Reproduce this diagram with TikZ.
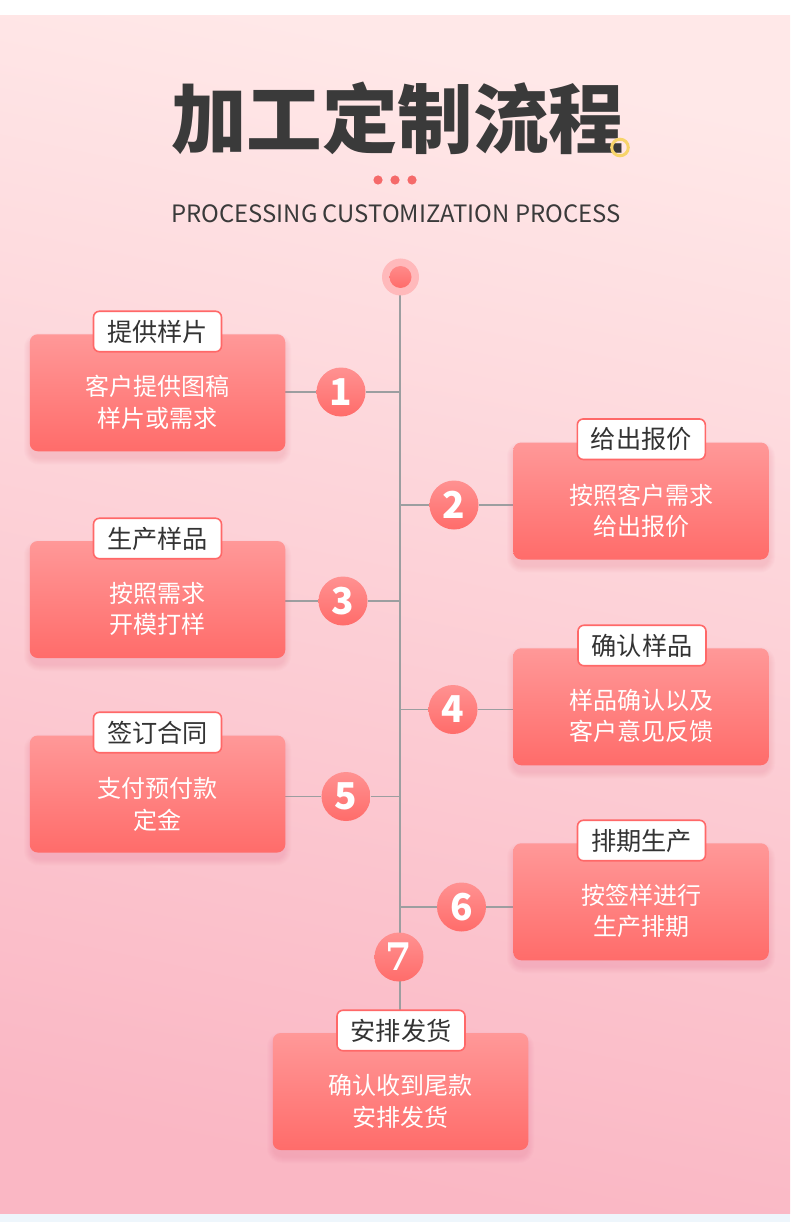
\documentclass[tikz,border=0pt]{standalone}
\usepackage{fontspec}
\setmainfont{Noto Sans CJK SC}
\newfontfamily\cjk{Noto Sans CJK SC}
\newfontfamily\slab{DejaVu Serif}
\definecolor{bgtop}{HTML}{FFE8E8}
\definecolor{bgbot}{HTML}{FAB7C4}
\definecolor{bgblue}{HTML}{EEF6FC}
\definecolor{cardtop}{HTML}{FF9898}
\definecolor{cardbot}{HTML}{FF6C6A}
\definecolor{lblborder}{HTML}{FF6868}
\definecolor{txtdark}{HTML}{333333}
\definecolor{titledark}{HTML}{3A3A3A}
\definecolor{linegray}{HTML}{9C9EA0}
\definecolor{ringyel}{HTML}{F7D46A}
\definecolor{dotred}{HTML}{F56A6A}
\definecolor{shadowcol}{HTML}{E8708A}
\definecolor{halo}{HTML}{FFB9BB}
\usetikzlibrary{calc}
\pgfdeclarelayer{bglayer}
\pgfdeclarelayer{lines}
\pgfsetlayers{bglayer,lines,main}
\newcommand\cshadow[4]{%
  \foreach \i in {1,...,7}{%
    \fill[shadowcol, opacity=0.03, rounded corners=8pt+\i pt]
      ($(#1,#2)+(-\i+1,-\i+6)$) rectangle ($(#3,#4)+(\i-1,\i+6)$);}}
\begin{document}
\begin{tikzpicture}[x=1pt,y=-1pt,
  card/.style={rectangle, rounded corners=8pt, top color=cardtop, bottom color=cardbot,
    minimum width=255.5pt, minimum height=117pt, inner sep=0pt},
  lbl/.style={rectangle, rounded corners=6pt, draw=lblborder, line width=1.6pt, fill=white,
    minimum width=128pt, minimum height=40.5pt, inner sep=0pt, text=txtdark,
    font=\fontsize{25.2}{28}\selectfont},
  ctext/.style={align=center, text=white, inner sep=0pt, font=\fontsize{24}{31.5}\selectfont},
  num/.style={circle, minimum size=49pt, inner sep=0pt, top color=cardtop!85!cardbot, bottom color=cardbot,
    text=white, font=\fontsize{37}{37}\selectfont\bfseries},
  conn/.style={draw=linegray, line width=1.2pt}]
\useasboundingbox (0,0) rectangle (790,1222);
% background
\begin{pgfonlayer}{bglayer}
\fill[white] (0,0) rectangle (790,16);
\fill[bgblue] (0,1213) rectangle (790,1222);
\shade[top color=bgtop, bottom color=bgbot, shading angle=-12] (0,16) rectangle (790,1213);
\end{pgfonlayer}

% title
\node[text=titledark, inner sep=0pt, font=\fontsize{75.5}{75.5}\selectfont\bfseries] (title) at (397.5,118) {加工定制流程};
\draw[ringyel, line width=3pt] (620,147.5) circle (8.3pt);
\foreach \xx in {378,395,412}
  \fill[dotred] (\xx,180) circle (4.6pt);
\node[text=titledark, inner sep=0pt, font=\fontsize{23.9}{23.9}\selectfont] (sub) at (396,214) {PROCESSING CUSTOMIZATION PROCESS};

% shadows
\cshadow{30}{334}{285}{451.5}
\cshadow{30}{541}{285}{658}
\cshadow{30}{735.5}{285}{852.5}
\cshadow{513}{442.5}{769}{559.5}
\cshadow{513}{648}{769}{765.5}
\cshadow{513}{843.5}{769}{960}
\cshadow{273}{1033}{528}{1150}

% cards
\node[card] (c1) at (157.5,392.75) {};
\node[card] (c3) at (157.5,599.5) {};
\node[card] (c5) at (157.5,794) {};
\node[card] (c2) at (641,501) {};
\node[card] (c4) at (641,706.75) {};
\node[card] (c6) at (641,901.75) {};
\node[card] (c7) at (400.5,1091.5) {};

% spine top
\fill[halo] (400.5,277) circle (18.5pt);
\node[circle, minimum size=22pt, inner sep=0pt, top color=cardtop!70!cardbot, bottom color=cardbot] (top) at (400.5,277) {};

% number circles
\node[num] (n1) at (341,392) {1};
\node[num] (n2) at (454,505) {2};
\node[num] (n3) at (343,601) {3};
\node[num] (n4) at (453,709.5) {4};
\node[num] (n5) at (346,796.5) {5};
\node[num] (n6) at (461.5,907) {6};
\node[num, font=\fontsize{38}{38}\selectfont\slab\bfseries] (n7) at (399,957) {7};

% labels
\node[lbl] (l1) at (157.5,331.5) {提供样片};
\node[lbl] (l3) at (157.5,538.5) {生产样品};
\node[lbl] (l5) at (157.5,732.5) {签订合同};
\node[lbl] (l2) at (641.3,439.2) {给出报价};
\node[lbl] (l4) at (642,645.5) {确认样品};
\node[lbl] (l6) at (641.5,840.5) {排期生产};
\node[lbl] (l7) at (401,1030.5) {安排发货};

% spine coordinates
\coordinate (s1) at (400,392);
\coordinate (s2) at (400,505);
\coordinate (s3) at (400,601);
\coordinate (s4) at (400,709.5);
\coordinate (s5) at (400,796.5);
\coordinate (s6) at (400,907);
\coordinate (st) at (400,277);
\coordinate (sb) at (400,1010);

% connectors
\begin{pgfonlayer}{lines}
\draw[conn] (st) -- (sb);
\draw[conn] (c1.east |- n1) -- (n1) -- (s1);
\draw[conn] (c3.east |- n3) -- (n3) -- (s3);
\draw[conn] (c5.east |- n5) -- (n5) -- (s5);
\draw[conn] (s2) -- (n2) -- (c2.west |- n2);
\draw[conn] (s4) -- (n4) -- (c4.west |- n4);
\draw[conn] (s6) -- (n6) -- (c6.west |- n6);
\end{pgfonlayer}

% card texts
\node[ctext] (t1) at (157.5,402.5) {客户提供图稿\\样片或需求};
\node[ctext] (t3) at (157.5,609) {按照需求\\开模打样};
\node[ctext] (t5) at (157.5,804.5) {支付预付款\\定金};
\node[ctext] (t2) at (641,511) {按照客户需求\\给出报价};
\node[ctext] (t4) at (641,716) {样品确认以及\\客户意见反馈};
\node[ctext] (t6) at (641,911) {按签样进行\\生产排期};
\node[ctext] (t7) at (400.5,1101.5) {确认收到尾款\\安排发货};
\end{tikzpicture}
\end{document}
